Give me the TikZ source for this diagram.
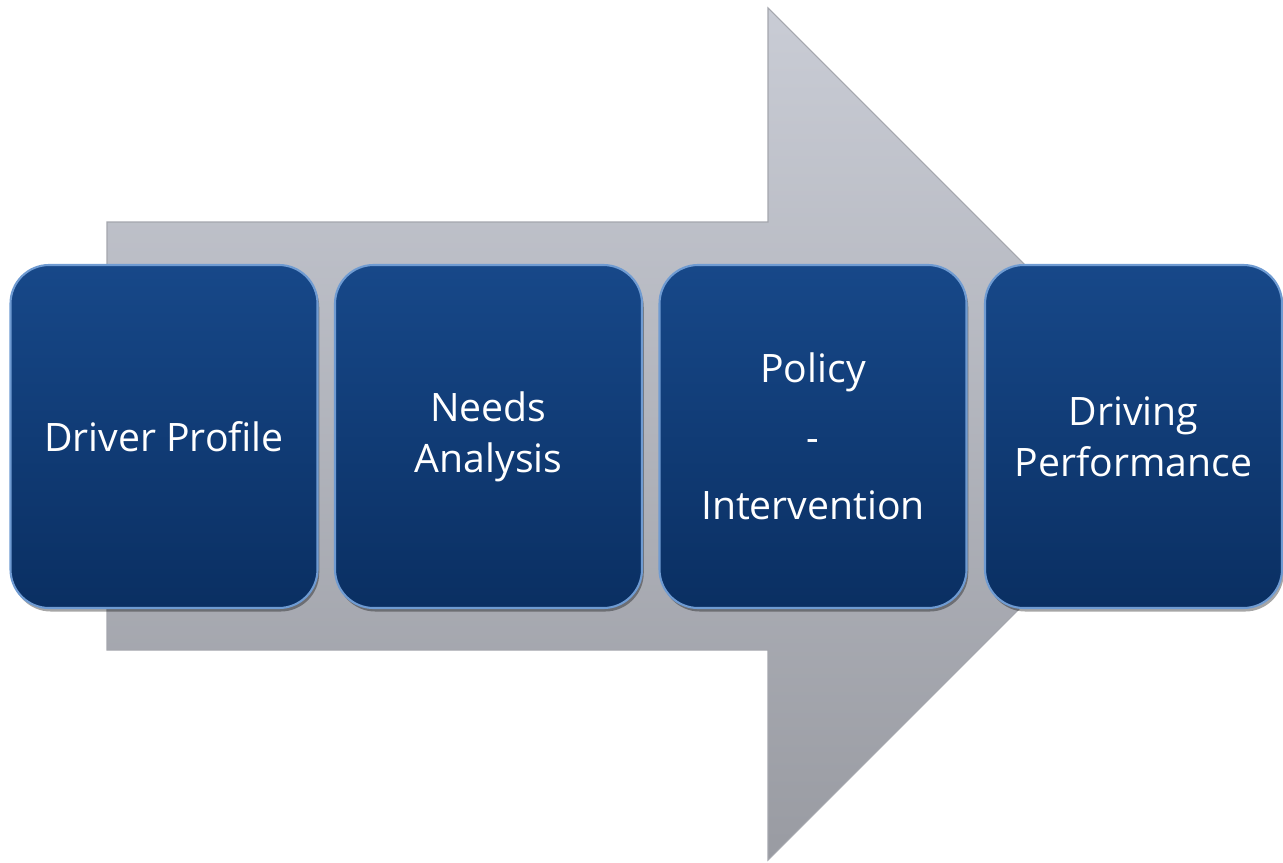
\documentclass[tikz,border=0pt]{standalone}
\usepackage{fontspec}
\setmainfont{Open Sans}
\usetikzlibrary{shadows}
\definecolor{arrtop}{HTML}{C9CCD5}
\definecolor{arrbot}{HTML}{999BA2}
\definecolor{arredge}{HTML}{A4A6AD}
\definecolor{boxtop}{HTML}{174889}
\definecolor{boxbot}{HTML}{0A2F62}
\definecolor{boxrim}{HTML}{6F9BD2}
\tikzset{
  stagebox/.style={rounded corners=22pt, top color=boxtop, bottom color=boxbot,
    draw=boxrim, line width=1.2pt, minimum width=307*0.02cm, minimum height=343*0.02cm,
    text=white, font=\fontsize{22.3}{29}\selectfont, align=center,
    drop shadow={shadow xshift=1pt, shadow yshift=-2pt, opacity=0.35, fill=black}},
  bigarrow/.style={top color=arrtop, bottom color=arrbot, draw=arredge, line width=0.6pt}
}
\begin{document}
\begin{tikzpicture}[x=0.02cm,y=-0.02cm]
\useasboundingbox (0,0) rectangle (1283,862);
\draw[bigarrow] (107,222) -- (768,222) -- (768,8) -- (1194,434) -- (768,860) -- (768,650) -- (107,650) -- cycle;
\node[stagebox] (b1) at (164,436.5) {Driver Profile};
\node[stagebox] (b2) at (488.5,436.5) {Needs\\Analysis};
\node[stagebox] (b3) at (813,436.5) {Policy\\[10pt]-\\[10pt]Intervention};
\node[stagebox, minimum width=297*0.02cm] (b4) at (1133.5,436.5) {Driving\\Performance};
\end{tikzpicture}
\end{document}
